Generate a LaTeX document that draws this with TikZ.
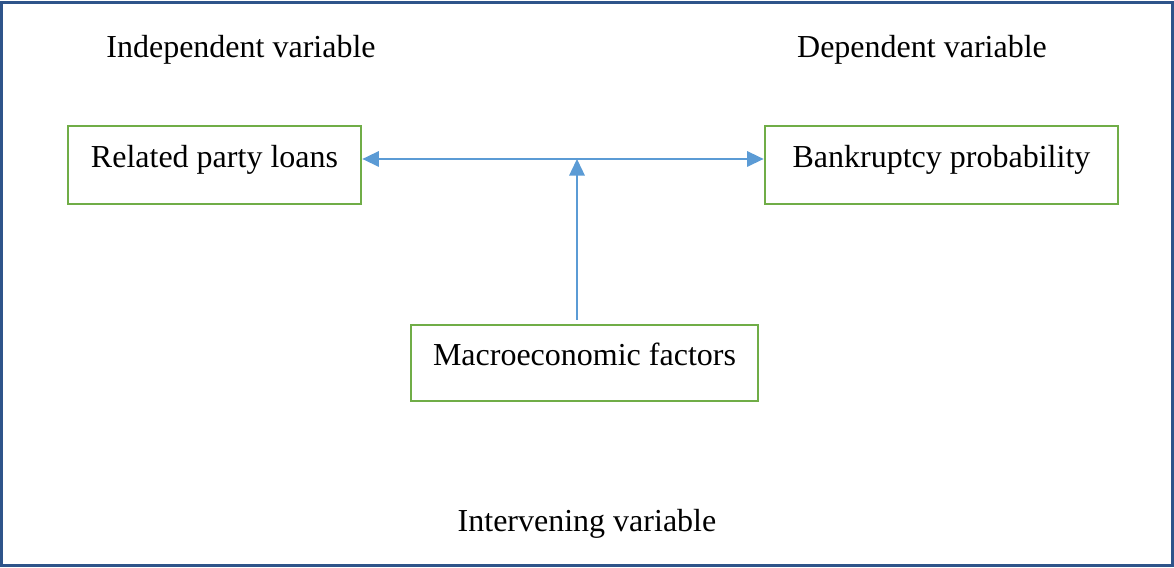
\documentclass[tikz,border=0pt]{standalone}
\usepackage{fontspec}
\setmainfont{Liberation Serif}
\usetikzlibrary{arrows.meta}
\definecolor{framecol}{RGB}{46,84,138}
\definecolor{boxgreen}{RGB}{112,173,71}
\definecolor{arrowblue}{RGB}{91,155,213}
\tikzset{
  varbox/.style={draw=boxgreen, line width=1pt, rectangle, inner sep=0pt},
  lbl/.style={anchor=base, inner sep=0pt, font=\fontsize{12}{14}\selectfont},
  conn/.style={draw=arrowblue, line width=0.6pt},
  tip/.style={-{Triangle[length=6.2pt,width=5.8pt]}}
}
\begin{document}
\begin{tikzpicture}[x=0.375pt,y=-0.375pt]
\useasboundingbox (0,0) rectangle (1174,568);
\draw[framecol, line width=1.1pt] (1.5,2.5) rectangle (1172.5,565.5);

\node[lbl] (indep) at (241,58) {Independent variable};
\node[lbl] (dep) at (922,58) {Dependent variable};
\node[lbl] (interv) at (587,532) {Intervening variable};

\node[varbox, minimum width=109.9pt, minimum height=29.25pt] (rpl) at (214.5,165) {};
\node[lbl] (rpltext) at (214.5,168) {Related party loans};

\node[varbox, minimum width=132.4pt, minimum height=29.25pt] (bp) at (941.5,165) {};
\node[lbl] (bptext) at (941.5,168) {Bankruptcy probability};

\node[varbox, minimum width=130.1pt, minimum height=28.5pt] (mf) at (584.5,363) {};
\node[lbl] (mftext) at (584.5,366) {Macroeconomic factors};

\coordinate (mid) at (577,159);
\coordinate (vbot) at (577,320);
\coordinate (lend) at (rpl.east |- mid);
\coordinate (rend) at (bp.west |- mid);

\draw[conn, {Triangle[length=6.2pt,width=5.8pt]}-{Triangle[length=6.2pt,width=5.8pt]}] (lend) -- (rend);
\draw[conn, tip] (vbot) -- (mid);
\end{tikzpicture}
\end{document}
